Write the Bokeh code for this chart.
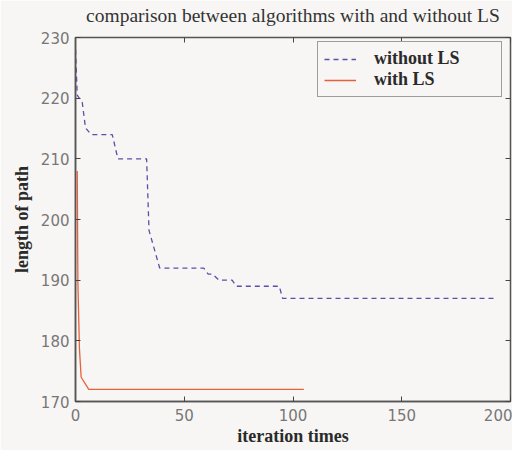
from bokeh.plotting import figure
from bokeh.models import LinearAxis, Legend, LegendItem, Range1d, FixedTicker
from bokeh.embed import file_html
from bokeh.resources import INLINE

# ---- data ----
without_x = [0, 0.8, 3.1, 4.6, 7.2, 16.9, 19.5, 32.7, 33.8, 38.7, 59, 61, 63, 66, 72, 74, 93.7, 95.2, 194]
without_y = [228, 220.5, 219.3, 215.1, 214, 214, 210, 210, 198.2, 192, 192, 191, 191, 190, 190, 189, 189, 187, 187]
with_x = [0.8, 1.1, 1.8, 2.6, 6.1, 105]
with_y = [208, 189.5, 178.8, 174, 172, 172]
x_ticks = [0, 50, 100, 150, 200]
y_ticks = [170, 180, 190, 200, 210, 220, 230]
title_text = "comparison between algorithms with and without LS"

BG = "#f7f6f4"
SERIF = "Liberation Serif"

p = figure(width=512, height=450, output_backend="svg", toolbar_location=None,
           x_range=Range1d(0, 200), y_range=Range1d(170, 230),
           min_border_left=75, min_border_right=2, min_border_top=37, min_border_bottom=49,
           background_fill_color=BG, border_fill_color=BG)

p.grid.visible = False
p.outline_line_color = "#555555"
p.outline_line_width = 1.5

for ax, ticks in ((p.xaxis[0], x_ticks), (p.yaxis[0], y_ticks)):
    ax.ticker = FixedTicker(ticks=ticks)
    ax.major_tick_in = 5
    ax.major_tick_out = 0
    ax.minor_tick_line_color = None
    ax.axis_line_color = "#555555"
    ax.axis_line_width = 1.5
    ax.major_tick_line_color = "#444444"
    ax.major_label_text_font = "DejaVu Sans"
    ax.major_label_text_font_size = "15px"
    ax.major_label_text_color = "#777777"
    ax.axis_label_text_font = SERIF
    ax.axis_label_text_font_size = "18px"
    ax.axis_label_text_font_style = "bold"
    ax.axis_label_text_color = "#2a2a2a"

p.xaxis[0].axis_label = "iteration times"
p.xaxis[0].axis_label_standoff = 2
p.xaxis[0].major_label_standoff = 7
p.yaxis[0].axis_label = "length of path"
p.yaxis[0].axis_label_standoff = 6
p.yaxis[0].major_label_standoff = 6

top = LinearAxis(ticker=FixedTicker(ticks=x_ticks), major_tick_in=5, major_tick_out=0,
                 minor_tick_line_color=None, major_label_text_alpha=0,
                 major_label_text_font_size="1px", major_label_standoff=0,
                 axis_line_color=None, major_tick_line_color="#444444",
                 axis_label=title_text, axis_label_standoff=12,
                 axis_label_text_font=SERIF, axis_label_text_font_size="19.5px",
                 axis_label_text_font_style="normal", axis_label_text_color="#333333")
right = LinearAxis(ticker=FixedTicker(ticks=y_ticks), major_tick_in=5, major_tick_out=0,
                   minor_tick_line_color=None, major_label_text_alpha=0,
                   major_label_text_font_size="1px", major_label_standoff=0,
                   axis_line_color=None, major_tick_line_color="#444444")
p.add_layout(top, "above")
p.add_layout(right, "right")

r1 = p.line(without_x, without_y, line_color="#5a50a8", line_width=1.3, line_dash="5 4")
r2 = p.line(with_x, with_y, line_color="#e8603a", line_width=1.3)

legend = Legend(items=[LegendItem(label="without LS", renderers=[r1]),
                       LegendItem(label="with LS", renderers=[r2])],
                location=(242, 304), margin=0,
                border_line_color="#444444", border_line_width=1.3,
                background_fill_color=BG, background_fill_alpha=1,
                label_text_font=SERIF, label_text_font_size="18px",
                label_text_font_style="bold", label_text_color="#2a2a2a",
                glyph_width=32, glyph_height=18, label_standoff=18, label_width=121,
                label_height=18, spacing=0, padding=6)
p.add_layout(legend, "center")

open("out.html", "w").write(file_html(p, INLINE))
